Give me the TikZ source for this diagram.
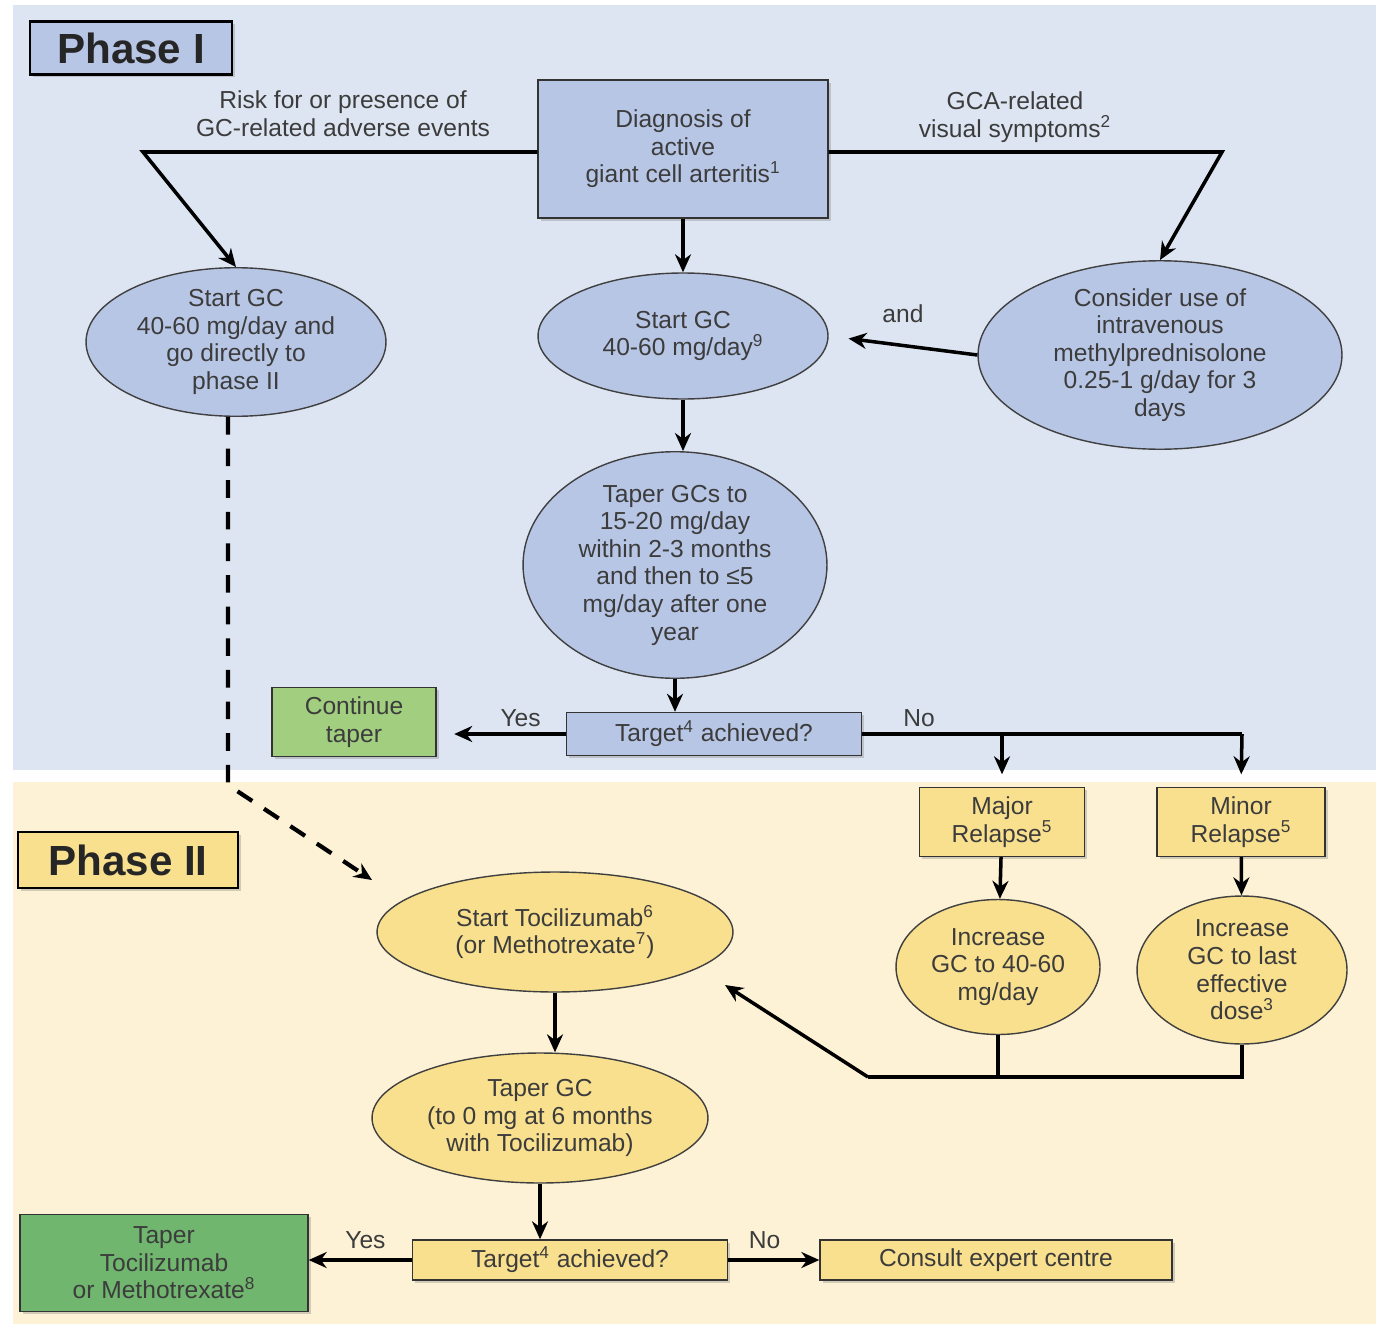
\documentclass[tikz,border=0pt]{standalone}
\usepackage{fontspec}
\setmainfont{Liberation Sans}
\usetikzlibrary{positioning, arrows.meta, shapes.geometric, shadows}

\definecolor{bgblue}{RGB}{221,229,242}
\definecolor{bgyellow}{RGB}{253,242,214}
\definecolor{nodeblue}{RGB}{184,198,230}
\definecolor{nodeyellow}{RGB}{249,224,142}
\definecolor{lightgreen}{RGB}{162,206,128}
\definecolor{darkgreen}{RGB}{112,182,110}
\definecolor{ink}{RGB}{60,60,60}

\begin{document}
\begin{tikzpicture}[
    x=0.02cm, y=-0.02cm,
    box/.style={rectangle, draw=black!80, line width=0.8pt, font=\fontsize{14}{15.7}\selectfont, align=center, text=ink, fill=#1, inner sep=2pt, drop shadow={opacity=0.35, shadow xshift=1.5pt, shadow yshift=-1.5pt}},
    box/.default=nodeblue,
    oval/.style={ellipse, draw=black!75, line width=0.8pt, font=\fontsize{14}{15.7}\selectfont, align=center, text=ink, fill=#1, inner sep=0pt},
    oval/.default=nodeblue,
    phase/.style={rectangle, draw=black, line width=1.2pt, font=\fontsize{24}{28}\selectfont\bfseries, text=black!85, fill=#1, drop shadow={opacity=0.35, shadow xshift=1.5pt, shadow yshift=-1.5pt}},
    lbl/.style={font=\fontsize{14}{15.7}\selectfont, align=center, text=ink},
    line/.style={line width=2pt},
    arr/.style={-{Stealth[length=3.6mm, width=3.2mm]}, line width=2pt},
    darr/.style={arr, dash pattern=on 10pt off 8pt, line width=2.4pt},
]
\useasboundingbox (0,0) rectangle (1378,1331);

% Backgrounds
\fill[bgblue] (13,5) rectangle (1376,770);
\fill[bgyellow] (13,782) rectangle (1376,1324);

% Phase labels
\node[phase=nodeblue, minimum width=4.04cm, minimum height=1.06cm] (ph1) at (131,48) {Phase I};
\node[phase=nodeyellow, minimum width=4.4cm, minimum height=1.12cm] (ph2) at (128,860) {Phase II};

% Phase I
\node[box, minimum width=5.8cm, minimum height=2.76cm] (diag) at (683,149) {Diagnosis of\\active\\giant cell arteritis\textsuperscript{1}};
\node[lbl] (risk) at (343,114) {Risk for or presence of\\GC-related adverse events};
\node[lbl] (gca) at (1015,117) {GCA-related\\visual symptoms\textsuperscript{2}};

\node[oval, minimum width=6cm, minimum height=2.38cm] (gcphase) at (236,342) {Start GC\\40-60 mg/day and\\go directly to\\phase II};
\node[oval, minimum width=5.8cm, minimum height=2.52cm] (startgc) at (683,336) {Start GC\\40-60 mg/day\textsuperscript{9}};
\node[oval, minimum width=7.28cm, minimum height=3.2cm] (ivmp) at (1160,355) {Consider use of\\intravenous\\methylprednisolone\\0.25-1 g/day for 3\\days};
\node[oval, minimum width=6.08cm, minimum height=4.12cm] (taper) at (675,565) {Taper GCs to\\15-20 mg/day\\within 2-3 months\\and then to ≤5\\mg/day after one\\year};

\node[box, minimum width=5.9cm, minimum height=0.86cm] (target1) at (714,734) {Target\textsuperscript{4} achieved?};
\node[box=lightgreen, minimum width=3.28cm, minimum height=1.38cm] (cont) at (354,722) {Continue\\taper};

% Phase II
\node[box=nodeyellow, minimum width=3.3cm, minimum height=1.38cm] (major) at (1002,822) {Major\\Relapse\textsuperscript{5}};
\node[box=nodeyellow, minimum width=3.36cm, minimum height=1.38cm] (minor) at (1241,822) {Minor\\Relapse\textsuperscript{5}};
\node[oval=nodeyellow, minimum width=4.08cm, minimum height=2.7cm] (incmaj) at (998,967) {Increase\\GC to 40-60\\mg/day};
\node[oval=nodeyellow, minimum width=4.2cm, minimum height=2.96cm] (incmin) at (1242,970) {Increase\\GC to last\\effective\\dose\textsuperscript{3}};

\node[oval=nodeyellow, minimum width=7.12cm, minimum height=2.4cm] (toci) at (555,932) {Start Tocilizumab\textsuperscript{6}\\(or Methotrexate\textsuperscript{7})};
\node[oval=nodeyellow, minimum width=6.72cm, minimum height=2.6cm] (tapergc) at (540,1118) {Taper GC\\(to 0 mg at 6 months\\with Tocilizumab)};
\node[box=nodeyellow, minimum width=6.3cm, minimum height=0.8cm] (target2) at (570,1260) {Target\textsuperscript{4} achieved?};
\node[box=darkgreen, minimum width=5.76cm, minimum height=1.94cm] (stoptoci) at (164,1263) {Taper\\Tocilizumab\\or Methotrexate\textsuperscript{8}};
\node[box=nodeyellow, minimum width=7.04cm, minimum height=0.8cm] (consult) at (996,1260) {Consult expert centre};

% Bends
\coordinate (lbend) at (143,152);
\coordinate (rbend) at (1222,152);
\coordinate (nojoin) at (1242,734);
\coordinate (merge) at (868,1077);
\coordinate (mergetip) at (725,985);
\coordinate (dbend) at (228,785);
\coordinate (dashtip) at (372,880);

% Arrows
\draw[arr] (diag.west |- lbend) -- (lbend) -- (gcphase.north);
\draw[arr] (diag.east |- rbend) -- (rbend) -- (ivmp.north);
\draw[arr] (diag) -- (startgc);
\draw[arr, shorten >=0.4cm] (ivmp.west) -- node[lbl, above=0.3cm] {and} (startgc.east);
\draw[arr] (startgc.south) -- (startgc.south |- taper.north);
\draw[arr] (taper.south) -- (taper.south |- target1.north);
\draw[arr, shorten >=0.35cm] (target1.west) -- node[lbl, above, pos=0.35] {Yes} (target1.west -| cont.east);
\draw[line] (target1.east) -- node[lbl, above, pos=0.15] {No} (nojoin);
\draw[arr, shorten >=0.25cm] (major.north |- nojoin) -- (major.north);
\draw[arr, shorten >=0.25cm] (nojoin) -- (minor.north);
\draw[arr] (major) -- (incmaj);
\draw[arr] (minor) -- (incmin);
\draw[line] (incmaj.south) -- (incmaj.south |- merge);
\draw[line] (incmin.south) -- (incmin.south |- merge) -- (merge);
\draw[arr] (merge) -- (mergetip);
\draw[darr] (gcphase.south -| dbend) -- (dbend) -- (dashtip);
\draw[arr] (toci.south) -- (toci.south |- tapergc.north);
\draw[arr] (tapergc.south) -- (tapergc.south |- target2.north);
\draw[arr] (target2.west) -- node[lbl, above=2pt, pos=0.45] {Yes} (target2.west -| stoptoci.east);
\draw[arr] (target2.east) -- node[lbl, above=2pt, pos=0.4] {No} (consult.west);

\end{tikzpicture}
\end{document}
